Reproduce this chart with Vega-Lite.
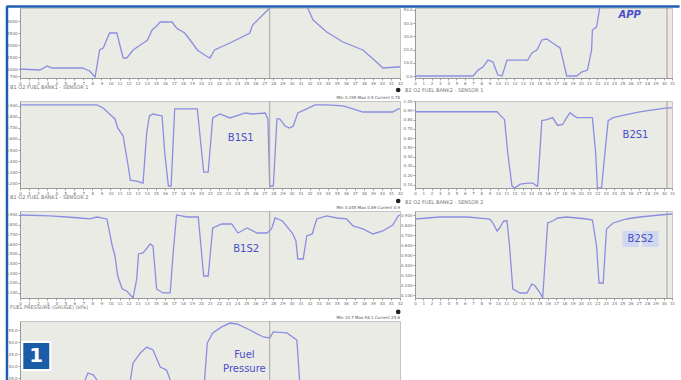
{
  "$schema": "https://vega.github.io/schema/vega-lite/v6.json",
  "background": "white",
  "padding": {"left": 4, "top": 4, "right": 0, "bottom": 0},
  "config": {
    "view": {"fill": "#ebebe6", "stroke": "#c4c4c4"},
    "axis": {"labelFontSize": 4, "labelColor": "#666", "tickSize": 2, "tickColor": "#999", "domainColor": "#999", "labelPadding": 1, "title": null, "grid": false, "labelFont": "DejaVu Sans", "labelOverlap": false, "labelFlush": false},
    "title": {"fontSize": 5, "color": "#777", "fontWeight": "normal", "anchor": "start", "font": "DejaVu Sans", "offset": 6, "dx": -10, "frame": "group"},
    "text": {"font": "DejaVu Sans"}
  },
  "datasets": {
    "rpm": [
      {"t":0,"v":1000},{"t":2.2,"v":958},{"t":3.0,"v":1125},{"t":3.5,"v":1042},{"t":6.9,"v":1042},{"t":7.7,"v":917},{"t":8.3,"v":667},{"t":8.8,"v":1792},{"t":9.2,"v":1875},{"t":9.9,"v":2500},{"t":10.7,"v":2500},{"t":11.4,"v":1458},{"t":11.8,"v":1458},{"t":12.5,"v":1792},{"t":13.3,"v":2000},{"t":13.8,"v":2125},{"t":14.1,"v":2208},{"t":14.6,"v":2625},{"t":15.1,"v":2792},{"t":15.5,"v":2958},{"t":16.8,"v":2958},{"t":17.3,"v":2708},{"t":18.2,"v":2500},{"t":18.8,"v":2208},{"t":19.6,"v":1792},{"t":20.4,"v":1583},{"t":21.0,"v":1458},{"t":21.5,"v":1792},{"t":22.7,"v":2000},{"t":23.2,"v":2083},{"t":25.4,"v":2500},{"t":25.7,"v":2833},{"t":27.6,"v":3542},{"t":28.2,"v":3875},{"t":31.5,"v":3875},{"t":31.8,"v":3542},{"t":32.4,"v":3042},{"t":33.9,"v":2542},{"t":35.7,"v":2125},{"t":37.9,"v":1792},{"t":39.4,"v":1292},{"t":40.1,"v":1042},{"t":41.7,"v":1083},{"t":42,"v":1083}
    ],
    "app": [
      {"t":0,"v":0},{"t":7.0,"v":0},{"t":7.6,"v":4.5},{"t":8.2,"v":6.8},{"t":8.8,"v":12.1},{"t":9.4,"v":10.6},{"t":10.0,"v":0.8},{"t":10.5,"v":0},{"t":11.1,"v":12.1},{"t":13.6,"v":12.1},{"t":14.1,"v":17.4},{"t":14.7,"v":19.7},{"t":15.3,"v":27.3},{"t":15.9,"v":28.0},{"t":16.6,"v":25.0},{"t":17.5,"v":21.2},{"t":17.8,"v":13.6},{"t":18.3,"v":0},{"t":19.5,"v":0},{"t":20.1,"v":3.0},{"t":20.8,"v":4.5},{"t":21.3,"v":19.7},{"t":21.4,"v":34.8},{"t":21.9,"v":37.1},{"t":22.3,"v":52.3},{"t":22.7,"v":61},{"t":31,"v":61}
    ],
    "b1s1": [
      {"t":0,"v":0.909},{"t":8.5,"v":0.909},{"t":9.2,"v":0.882},{"t":9.9,"v":0.827},{"t":10.5,"v":0.782},{"t":10.8,"v":0.7},{"t":11.4,"v":0.627},{"t":11.9,"v":0.382},{"t":12.2,"v":0.227},{"t":12.9,"v":0.218},{"t":13.6,"v":0.2},{"t":14.0,"v":0.655},{"t":14.3,"v":0.809},{"t":14.7,"v":0.827},{"t":15.7,"v":0.809},{"t":16.0,"v":0.473},{"t":16.4,"v":0.173},{"t":16.7,"v":0.173},{"t":17.1,"v":0.873},{"t":17.3,"v":0.873},{"t":19.6,"v":0.873},{"t":19.9,"v":0.627},{"t":20.3,"v":0.3},{"t":20.8,"v":0.3},{"t":21.3,"v":0.791},{"t":22.1,"v":0.827},{"t":23.2,"v":0.791},{"t":24.9,"v":0.836},{"t":25.7,"v":0.827},{"t":27.1,"v":0.836},{"t":27.4,"v":0.782},{"t":27.6,"v":0.173},{"t":28.0,"v":0.173},{"t":28.4,"v":0.782},{"t":28.7,"v":0.782},{"t":29.3,"v":0.718},{"t":29.8,"v":0.7},{"t":30.2,"v":0.718},{"t":30.7,"v":0.836},{"t":31.7,"v":0.873},{"t":32.6,"v":0.909},{"t":33.9,"v":0.909},{"t":35.7,"v":0.9},{"t":36.8,"v":0.873},{"t":37.9,"v":0.845},{"t":39.4,"v":0.845},{"t":41.2,"v":0.845},{"t":41.8,"v":0.873},{"t":42,"v":0.873}
    ],
    "b2s1": [
      {"t":0,"v":0.884},{"t":2.7,"v":0.884},{"t":9.9,"v":0.884},{"t":10.2,"v":0.853},{"t":10.8,"v":0.8},{"t":11.2,"v":0.432},{"t":11.7,"v":0.084},{"t":12.0,"v":0.063},{"t":12.7,"v":0.105},{"t":13.6,"v":0.116},{"t":14.2,"v":0.116},{"t":14.7,"v":0.084},{"t":14.8,"v":0.084},{"t":15.3,"v":0.789},{"t":15.9,"v":0.8},{"t":16.6,"v":0.821},{"t":17.2,"v":0.737},{"t":17.8,"v":0.747},{"t":18.3,"v":0.821},{"t":18.7,"v":0.874},{"t":19.0,"v":0.853},{"t":19.5,"v":0.821},{"t":21.4,"v":0.821},{"t":21.8,"v":0.432},{"t":22.0,"v":0.063},{"t":22.5,"v":0.063},{"t":22.9,"v":0.432},{"t":23.3,"v":0.789},{"t":23.9,"v":0.821},{"t":25.5,"v":0.853},{"t":27.1,"v":0.884},{"t":28.7,"v":0.905},{"t":30.4,"v":0.926},{"t":31.0,"v":0.926}
    ],
    "b1s2": [
      {"t":0,"v":0.9},{"t":3.3,"v":0.89},{"t":5.2,"v":0.879},{"t":6.6,"v":0.869},{"t":7.7,"v":0.859},{"t":8.5,"v":0.879},{"t":9.6,"v":0.859},{"t":10.2,"v":0.58},{"t":10.5,"v":0.477},{"t":10.8,"v":0.271},{"t":11.3,"v":0.137},{"t":11.8,"v":0.116},{"t":12.5,"v":0.044},{"t":12.9,"v":0.24},{"t":13.1,"v":0.498},{"t":13.6,"v":0.508},{"t":14.4,"v":0.601},{"t":14.7,"v":0.58},{"t":15.1,"v":0.137},{"t":15.8,"v":0.096},{"t":16.6,"v":0.096},{"t":16.9,"v":0.477},{"t":17.3,"v":0.9},{"t":18.5,"v":0.879},{"t":19.7,"v":0.879},{"t":20.0,"v":0.58},{"t":20.3,"v":0.271},{"t":20.8,"v":0.271},{"t":21.3,"v":0.766},{"t":22.3,"v":0.807},{"t":23.4,"v":0.807},{"t":24.1,"v":0.714},{"t":25.1,"v":0.766},{"t":26.2,"v":0.714},{"t":27.3,"v":0.714},{"t":27.8,"v":0.756},{"t":28.2,"v":0.869},{"t":29.0,"v":0.838},{"t":30.1,"v":0.714},{"t":30.5,"v":0.632},{"t":30.7,"v":0.446},{"t":31.3,"v":0.446},{"t":31.7,"v":0.684},{"t":32.3,"v":0.704},{"t":32.8,"v":0.859},{"t":33.9,"v":0.89},{"t":35.0,"v":0.869},{"t":36.1,"v":0.859},{"t":36.8,"v":0.787},{"t":37.9,"v":0.756},{"t":39.0,"v":0.704},{"t":40.1,"v":0.735},{"t":41.2,"v":0.797},{"t":41.8,"v":0.89},{"t":42,"v":0.9}
    ],
    "b2s2": [
      {"t":0,"v":0.86},{"t":3.0,"v":0.88},{"t":6.3,"v":0.88},{"t":9.0,"v":0.86},{"t":9.4,"v":0.82},{"t":9.9,"v":0.74},{"t":10.2,"v":0.77},{"t":10.7,"v":0.84},{"t":11.1,"v":0.84},{"t":11.4,"v":0.59},{"t":11.8,"v":0.16},{"t":12.7,"v":0.12},{"t":13.5,"v":0.12},{"t":14.1,"v":0.21},{"t":14.5,"v":0.19},{"t":15.1,"v":0.12},{"t":15.4,"v":0.07},{"t":16.0,"v":0.82},{"t":16.6,"v":0.84},{"t":17.2,"v":0.87},{"t":18.3,"v":0.88},{"t":20.7,"v":0.86},{"t":21.4,"v":0.85},{"t":21.9,"v":0.59},{"t":22.2,"v":0.22},{"t":22.7,"v":0.22},{"t":23.1,"v":0.76},{"t":23.9,"v":0.82},{"t":25.5,"v":0.86},{"t":27.1,"v":0.88},{"t":29.5,"v":0.9},{"t":31.0,"v":0.91}
    ],
    "fuel": [
      {"t":0,"v":25.8},{"t":6.6,"v":25.8},{"t":7.2,"v":34.2},{"t":7.5,"v":37.1},{"t":8.1,"v":36.3},{"t":8.5,"v":34.2},{"t":8.8,"v":27.9},{"t":11.6,"v":27.9},{"t":12.2,"v":34.2},{"t":12.5,"v":41.3},{"t":13.3,"v":45.4},{"t":14.0,"v":47.9},{"t":14.7,"v":46.7},{"t":15.5,"v":39.6},{"t":16.2,"v":38.3},{"t":16.6,"v":34.2},{"t":16.9,"v":27.9},{"t":19.9,"v":27.9},{"t":20.4,"v":34.2},{"t":20.7,"v":49.6},{"t":21.3,"v":53.8},{"t":22.3,"v":56.3},{"t":23.2,"v":57.9},{"t":24.0,"v":57.5},{"t":25.4,"v":55},{"t":26.9,"v":52.1},{"t":27.6,"v":51.7},{"t":28.0,"v":54.2},{"t":29.5,"v":53.8},{"t":30.6,"v":50.8},{"t":30.9,"v":34.2},{"t":31.3,"v":25.8},{"t":42,"v":25.8}
    ]
  },
  "columns": 2,
  "bounds": "flush",
  "spacing": {"row": 23, "column": 15},
  "concat": [
    {
      "width": 380, "height": 70,
      "layer": [
        {"data": {"name": "rpm"}, "mark": {"type": "line", "color": "#8b8ee0", "strokeWidth": 1.3, "clip": true},
         "encoding": {
           "x": {"field": "t", "type": "quantitative", "scale": {"domain": [0, 42], "nice": false}, "axis": {"tickCount": 100, "labelOverlap": false, "values": [0,1,2,3,4,5,6,7,8,9,10,11,12,13,14,15,16,17,18,19,20,21,22,23,24,25,26,27,28,29,30,31,32,33,34,35,36,37,38,39,40,41,42], "format": "d"}},
           "y": {"field": "v", "type": "quantitative", "scale": {"domain": [625, 3542], "nice": false, "zero": false}, "axis": {"tickCount": 100, "labelOverlap": false, "values": [700,1000,1500,2000,2500,3000], "format": "d"}}}},
        {"data": {"values": [{}]}, "mark": {"type": "rule", "color": "#a5a5a5", "strokeWidth": 1}, "encoding": {"x": {"datum": 27.6}}},
        {"data": {"values": [{}]}, "mark": {"type": "rule", "color": "#1f5fb0", "strokeWidth": 2.5, "clip": false}, "encoding": {"x": {"datum": -1.5}, "x2": {"datum": 72.9}, "y": {"datum": 3604}}},
        {"data": {"values": [{}]}, "mark": {"type": "rule", "color": "#1f5fb0", "strokeWidth": 2.5, "clip": false}, "encoding": {"x": {"datum": -1.44}, "y": {"datum": 3604}, "y2": {"datum": -11959}}},
        {"data": {"values": [{}]}, "mark": {"type": "point", "shape": "circle", "filled": true, "size": 22, "color": "#222", "opacity": 1, "clip": false}, "encoding": {"x": {"datum": 41.8}, "y": {"datum": 125}}}
      ]
    },
    {
      "width": 257, "height": 70,
      "layer": [
        {"data": {"name": "app"}, "mark": {"type": "line", "color": "#8b8ee0", "strokeWidth": 1.3, "clip": true},
         "encoding": {
           "x": {"field": "t", "type": "quantitative", "scale": {"domain": [0, 31], "nice": false}, "axis": {"tickCount": 100, "labelOverlap": false, "values": [0,1,2,3,4,5,6,7,8,9,10,11,12,13,14,15,16,17,18,19,20,21,22,23,24,25,26,27,28,29,30,31], "format": "d"}},
           "y": {"field": "v", "type": "quantitative", "scale": {"domain": [-1.5, 51.5], "nice": false, "zero": false}, "axis": {"tickCount": 100, "labelOverlap": false, "values": [0,10,20,30,40,50], "format": ".1f"}}}},
        {"data": {"values": [{}]}, "mark": {"type": "rule", "color": "#c09090", "strokeWidth": 1}, "encoding": {"x": {"datum": 30.4}}},
        {"data": {"values": [{}]}, "mark": {"type": "text", "text": "APP", "color": "#4a4ec8", "fontSize": 10, "fontWeight": "bold", "fontStyle": "italic"}, "encoding": {"x": {"datum": 25.9}, "y": {"datum": 46.2}}}
      ]
    },
    {
      "width": 380, "height": 87,
      "title": {"text": "B1 O2 FUEL BANK1 - SENSOR 1"},
      "layer": [
        {"data": {"name": "b1s1"}, "mark": {"type": "line", "color": "#8b8ee0", "strokeWidth": 1.3, "clip": true},
         "encoding": {
           "x": {"field": "t", "type": "quantitative", "scale": {"domain": [0, 42], "nice": false}, "axis": {"tickCount": 100, "labelOverlap": false, "values": [0,1,2,3,4,5,6,7,8,9,10,11,12,13,14,15,16,17,18,19,20,21,22,23,24,25,26,27,28,29,30,31,32,33,34,35,36,37,38,39,40,41,42], "format": "d"}},
           "y": {"field": "v", "type": "quantitative", "scale": {"domain": [0.155, 0.945], "nice": false, "zero": false}, "axis": {"tickCount": 100, "labelOverlap": false, "values": [0.2,0.3,0.4,0.5,0.6,0.7,0.8,0.9], "format": ".3f"}}}},
        {"data": {"values": [{}]}, "mark": {"type": "rule", "color": "#a5a5a5", "strokeWidth": 1}, "encoding": {"x": {"datum": 27.6}}},
        {"data": {"values": [{}]}, "mark": {"type": "text", "text": "B1S1", "color": "#4a4ec8", "fontSize": 10}, "encoding": {"x": {"datum": 24.4}, "y": {"datum": 0.609}}},
        {"data": {"values": [{}]}, "mark": {"type": "text", "text": "Min 0.195    Max 0.9    Current 0.78", "color": "#555", "fontSize": 4, "align": "right", "baseline": "bottom", "dy": -1}, "encoding": {"x": {"datum": 42}, "y": {"datum": 0.945}}},
        {"data": {"values": [{}]}, "mark": {"type": "point", "shape": "circle", "filled": true, "size": 22, "color": "#222", "opacity": 1, "clip": false}, "encoding": {"x": {"datum": 41.8}, "y": {"datum": 0.037}}}
      ]
    },
    {
      "width": 257, "height": 87,
      "title": {"text": "B2 O2 FUEL BANK2 - SENSOR 1"},
      "layer": [
        {"data": {"name": "b2s1"}, "mark": {"type": "line", "color": "#8b8ee0", "strokeWidth": 1.3, "clip": true},
         "encoding": {
           "x": {"field": "t", "type": "quantitative", "scale": {"domain": [0, 31], "nice": false}, "axis": {"tickCount": 100, "labelOverlap": false, "values": [0,1,2,3,4,5,6,7,8,9,10,11,12,13,14,15,16,17,18,19,20,21,22,23,24,25,26,27,28,29,30,31], "format": "d"}},
           "y": {"field": "v", "type": "quantitative", "scale": {"domain": [0.063, 1.0], "nice": false, "zero": false}, "axis": {"tickCount": 100, "labelOverlap": false, "values": [0.1,0.2,0.3,0.4,0.5,0.6,0.7,0.8,0.9,1.0], "format": ".2f"}}}},
        {"data": {"values": [{}]}, "mark": {"type": "rule", "color": "#c09090", "strokeWidth": 1}, "encoding": {"x": {"datum": 30.4}}},
        {"data": {"values": [{}]}, "mark": {"type": "text", "text": "B2S1", "color": "#4a4ec8", "fontSize": 10}, "encoding": {"x": {"datum": 26.6}, "y": {"datum": 0.632}}}
      ]
    },
    {
      "width": 380, "height": 87,
      "title": {"text": "B1 O2 FUEL BANK1 - SENSOR 2"},
      "layer": [
        {"data": {"name": "b1s2"}, "mark": {"type": "line", "color": "#8b8ee0", "strokeWidth": 1.3, "clip": true},
         "encoding": {
           "x": {"field": "t", "type": "quantitative", "scale": {"domain": [0, 42], "nice": false}, "axis": {"tickCount": 100, "labelOverlap": false, "values": [0,1,2,3,4,5,6,7,8,9,10,11,12,13,14,15,16,17,18,19,20,21,22,23,24,25,26,27,28,29,30,31,32,33,34,35,36,37,38,39,40,41,42], "format": "d"}},
           "y": {"field": "v", "type": "quantitative", "scale": {"domain": [0.044, 0.941], "nice": false, "zero": false}, "axis": {"tickCount": 100, "labelOverlap": false, "values": [0.1,0.2,0.3,0.4,0.5,0.6,0.7,0.8,0.9], "format": ".3f"}}}},
        {"data": {"values": [{}]}, "mark": {"type": "rule", "color": "#a5a5a5", "strokeWidth": 1}, "encoding": {"x": {"datum": 27.6}}},
        {"data": {"values": [{}]}, "mark": {"type": "text", "text": "B1S2", "color": "#4a4ec8", "fontSize": 10}, "encoding": {"x": {"datum": 25.0}, "y": {"datum": 0.55}}},
        {"data": {"values": [{}]}, "mark": {"type": "text", "text": "Min 0.045    Max 0.89    Current 0.9", "color": "#555", "fontSize": 4, "align": "right", "baseline": "bottom", "dy": -1}, "encoding": {"x": {"datum": 42}, "y": {"datum": 0.941}}},
        {"data": {"values": [{}]}, "mark": {"type": "point", "shape": "circle", "filled": true, "size": 22, "color": "#222", "opacity": 1, "clip": false}, "encoding": {"x": {"datum": 41.8}, "y": {"datum": -0.1}}}
      ]
    },
    {
      "width": 257, "height": 87,
      "title": {"text": "B2 O2 FUEL BANK2 - SENSOR 2"},
      "layer": [
        {"data": {"name": "b2s2"}, "mark": {"type": "line", "color": "#8b8ee0", "strokeWidth": 1.3, "clip": true},
         "encoding": {
           "x": {"field": "t", "type": "quantitative", "scale": {"domain": [0, 31], "nice": false}, "axis": {"tickCount": 100, "labelOverlap": false, "values": [0,1,2,3,4,5,6,7,8,9,10,11,12,13,14,15,16,17,18,19,20,21,22,23,24,25,26,27,28,29,30,31], "format": "d"}},
           "y": {"field": "v", "type": "quantitative", "scale": {"domain": [0.07, 0.94], "nice": false, "zero": false}, "axis": {"tickCount": 100, "labelOverlap": false, "values": [0.1,0.2,0.3,0.4,0.5,0.6,0.7,0.8,0.9], "format": ".3f"}}}},
        {"data": {"values": [{}]}, "mark": {"type": "rule", "color": "#a5a5a5", "strokeWidth": 1}, "encoding": {"x": {"datum": 30.4}}},
        {"data": {"values": [{}]}, "mark": {"type": "point", "shape": "square", "filled": true, "size": 260, "color": "#cfd8f0", "opacity": 1}, "encoding": {"x": {"datum": 26.0}, "y": {"datum": 0.66}}},
        {"data": {"values": [{}]}, "mark": {"type": "point", "shape": "square", "filled": true, "size": 260, "color": "#cfd8f0", "opacity": 1}, "encoding": {"x": {"datum": 28.4}, "y": {"datum": 0.66}}},
        {"data": {"values": [{}]}, "mark": {"type": "text", "text": "B2S2", "color": "#4a4ec8", "fontSize": 10}, "encoding": {"x": {"datum": 27.2}, "y": {"datum": 0.66}}}
      ]
    },
    {
      "width": 380, "height": 59,
      "title": {"text": "FUEL PRESSURE (GAUGE) (kPa)"},
      "layer": [
        {"data": {"name": "fuel"}, "mark": {"type": "line", "color": "#8b8ee0", "strokeWidth": 1.3, "clip": true},
         "encoding": {
           "x": {"field": "t", "type": "quantitative", "scale": {"domain": [0, 42], "nice": false}, "axis": null},
           "y": {"field": "v", "type": "quantitative", "scale": {"domain": [34.17, 58.75], "nice": false, "zero": false}, "axis": {"tickCount": 100, "labelOverlap": false, "values": [35,40,45,50,55], "format": ".1f"}}}},
        {"data": {"values": [{}]}, "mark": {"type": "rule", "color": "#a5a5a5", "strokeWidth": 1}, "encoding": {"x": {"datum": 27.6}}},
        {"data": {"values": [{}]}, "mark": {"type": "text", "text": ["Fuel", "Pressure"], "color": "#4a4ec8", "fontSize": 10, "lineHeight": 14}, "encoding": {"x": {"datum": 24.8}, "y": {"datum": 44.6}}},
        {"data": {"values": [{}]}, "mark": {"type": "text", "text": "Min 33.7    Max 58.1    Current 25.8", "color": "#555", "fontSize": 4, "align": "right", "baseline": "bottom", "dy": -1}, "encoding": {"x": {"datum": 42}, "y": {"datum": 58.75}}},
        {"data": {"values": [{}]}, "mark": {"type": "point", "shape": "square", "filled": true, "size": 784, "color": "#1b5ca8", "stroke": "white", "strokeWidth": 2, "opacity": 1}, "encoding": {"x": {"datum": 1.8}, "y": {"datum": 44.2}}},
        {"data": {"values": [{}]}, "mark": {"type": "text", "text": "1", "color": "white", "fontSize": 20, "fontWeight": "bold"}, "encoding": {"x": {"datum": 1.8}, "y": {"datum": 44.2}}}
      ]
    }
  ]
}
